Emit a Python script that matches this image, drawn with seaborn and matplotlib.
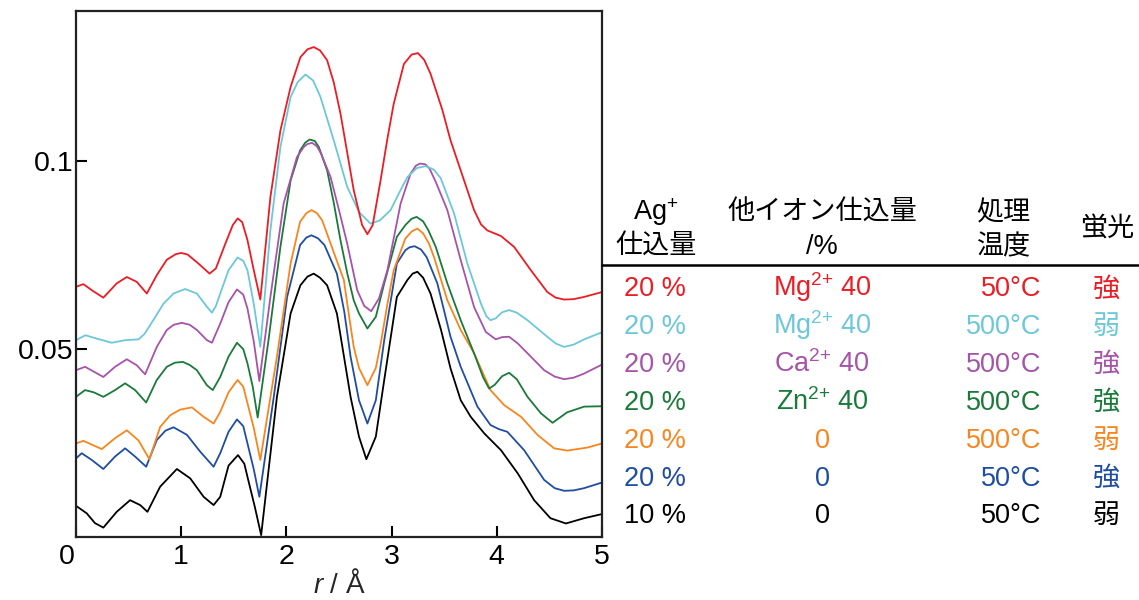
import numpy as np
import pandas as pd
import matplotlib
matplotlib.use("Agg")
import matplotlib.pyplot as plt
import matplotlib.transforms as mtransforms
from matplotlib.lines import Line2D
import seaborn as sns

# ---------------- data ----------------
r_red = [0.00, 0.07, 0.16, 0.26, 0.387, 0.483, 0.578, 0.673, 0.768, 0.863, 0.95, 1.0, 1.06, 1.155, 1.27,
         1.33, 1.42, 1.49, 1.537, 1.58, 1.63, 1.69, 1.752, 1.848, 1.943, 2.04, 2.133, 2.20, 2.26, 2.32,
         2.387, 2.45, 2.514, 2.58, 2.64, 2.72, 2.77, 2.82, 2.895, 2.96, 3.02, 3.117, 3.19, 3.25, 3.31,
         3.37, 3.483, 3.56, 3.689, 3.784, 3.85, 3.91, 4.04, 4.165, 4.324, 4.48, 4.56, 4.64, 4.73, 4.83, 5.0]
v_red = [0.0666, 0.0673, 0.0655, 0.0637, 0.0675, 0.0692, 0.0679, 0.0648, 0.0697, 0.0738, 0.0753, 0.0756,
         0.0752, 0.0730, 0.0701, 0.0715, 0.0781, 0.0830, 0.0848, 0.0838, 0.0790, 0.0710, 0.0632, 0.0905,
         0.1082, 0.1198, 0.1277, 0.1298, 0.1304, 0.1295, 0.1269, 0.1210, 0.1127, 0.1020, 0.0923, 0.0830,
         0.0806, 0.0830, 0.0949, 0.1060, 0.1153, 0.1259, 0.1284, 0.1288, 0.1270, 0.1233, 0.1136, 0.1056,
         0.0949, 0.0870, 0.0832, 0.0816, 0.0801, 0.0772, 0.0710, 0.0652, 0.0637, 0.0632, 0.0633, 0.0639,
         0.0652]

r_cyan = [0.00, 0.09, 0.197, 0.34, 0.47, 0.594, 0.65, 0.705, 0.832, 0.927, 1.038, 1.149, 1.244, 1.292,
          1.33, 1.371, 1.45, 1.536, 1.59, 1.63, 1.69, 1.752, 1.80, 1.848, 1.943, 2.04, 2.108, 2.181, 2.254,
          2.324, 2.45, 2.578, 2.69, 2.80, 2.89, 2.99, 3.07, 3.15, 3.24, 3.324, 3.40, 3.467, 3.594, 3.72,
          3.848, 3.90, 3.94, 3.99, 4.05, 4.117, 4.19, 4.292, 4.48, 4.56, 4.64, 4.73, 4.83, 5.0]
v_cyan = [0.0524, 0.0537, 0.0528, 0.0517, 0.0524, 0.0526, 0.0540, 0.0564, 0.0621, 0.0648, 0.0660, 0.0648,
          0.0613, 0.0597, 0.0615, 0.0648, 0.0710, 0.0744, 0.0735, 0.0710, 0.0620, 0.0506, 0.0660, 0.0817,
          0.1038, 0.1171, 0.1211, 0.1231, 0.1215, 0.1171, 0.1056, 0.0932, 0.0865, 0.0834, 0.0843, 0.0870,
          0.0915, 0.0958, 0.0982, 0.0987, 0.0978, 0.0955, 0.0861, 0.0728, 0.0622, 0.0588, 0.0577, 0.0582,
          0.0598, 0.0604, 0.0597, 0.0577, 0.0533, 0.0515, 0.0506, 0.0512, 0.0526, 0.0545]

r_purple = [0.00, 0.086, 0.17, 0.26, 0.371, 0.483, 0.578, 0.657, 0.768, 0.863, 0.93, 1.006, 1.08, 1.149,
            1.244, 1.292, 1.371, 1.45, 1.53, 1.59, 1.63, 1.69, 1.743, 1.848, 1.974, 2.10, 2.165, 2.20,
            2.244, 2.29, 2.33, 2.42, 2.50, 2.578, 2.673, 2.74, 2.806, 2.88, 2.96, 3.086, 3.18, 3.23, 3.27,
            3.32, 3.36, 3.42, 3.53, 3.657, 3.784, 3.895, 3.99, 4.05, 4.117, 4.20, 4.292, 4.45, 4.55, 4.64,
            4.73, 4.83, 5.0]
v_purple = [0.0444, 0.0453, 0.0440, 0.0426, 0.0453, 0.0473, 0.0457, 0.0433, 0.0506, 0.0551, 0.0565, 0.0570,
            0.0565, 0.0551, 0.0524, 0.0517, 0.0568, 0.0625, 0.0659, 0.0645, 0.0608, 0.0520, 0.0415, 0.0639,
            0.0888, 0.1011, 0.1038, 0.1046, 0.1049, 0.1040, 0.1020, 0.0958, 0.0870, 0.0781, 0.0657, 0.0615,
            0.0601, 0.0635, 0.0710, 0.0888, 0.0967, 0.0988, 0.0994, 0.0992, 0.0981, 0.0945, 0.0870, 0.0737,
            0.0612, 0.0546, 0.0526, 0.0532, 0.0533, 0.0515, 0.0489, 0.0444, 0.0427, 0.0420, 0.0424, 0.0435,
            0.0459]

r_green = [0.00, 0.086, 0.17, 0.26, 0.371, 0.467, 0.562, 0.667, 0.768, 0.863, 0.94, 1.016, 1.08, 1.149,
           1.244, 1.30, 1.371, 1.45, 1.53, 1.59, 1.63, 1.68, 1.727, 1.83, 1.943, 2.04, 2.13, 2.18, 2.222,
           2.27, 2.308, 2.387, 2.45, 2.514, 2.58, 2.64, 2.69, 2.77, 2.85, 2.93, 3.05, 3.13, 3.19, 3.238,
           3.30, 3.35, 3.42, 3.53, 3.657, 3.784, 3.87, 3.927, 3.98, 4.05, 4.117, 4.19, 4.292, 4.42, 4.53,
           4.60, 4.67, 4.83, 5.0]
v_green = [0.0373, 0.0391, 0.0385, 0.0373, 0.0391, 0.0409, 0.0391, 0.0358, 0.0418, 0.0453, 0.0464, 0.0466,
           0.0458, 0.0444, 0.0404, 0.0391, 0.0426, 0.0480, 0.0517, 0.0500, 0.0462, 0.0400, 0.0318, 0.0524,
           0.0772, 0.0949, 0.1029, 0.1050, 0.1058, 0.1054, 0.1038, 0.0976, 0.0890, 0.0790, 0.0700, 0.0630,
           0.0595, 0.0555, 0.0586, 0.0675, 0.0799, 0.0830, 0.0847, 0.0852, 0.0840, 0.0816, 0.0772, 0.0675,
           0.0577, 0.0489, 0.0425, 0.0395, 0.0405, 0.0428, 0.0437, 0.0420, 0.0373, 0.0329, 0.0304, 0.0318,
           0.0332, 0.0347, 0.0348]

r_orange = [0.00, 0.07, 0.245, 0.371, 0.483, 0.594, 0.698, 0.80, 0.895, 0.99, 1.102, 1.213, 1.308, 1.371,
            1.45, 1.536, 1.59, 1.63, 1.69, 1.752, 1.91, 2.04, 2.13, 2.19, 2.238, 2.29, 2.34, 2.42, 2.546,
            2.60, 2.64, 2.69, 2.77, 2.85, 2.90, 2.96, 3.02, 3.13, 3.19, 3.245, 3.30, 3.355, 3.403, 3.53,
            3.657, 3.784, 3.94, 4.07, 4.23, 4.39, 4.545, 4.67, 4.86, 5.0]
v_orange = [0.0249, 0.0256, 0.0234, 0.0263, 0.0284, 0.0257, 0.0207, 0.0293, 0.0324, 0.0339, 0.0345, 0.0320,
            0.0302, 0.0333, 0.0385, 0.0418, 0.0400, 0.0356, 0.0290, 0.0205, 0.0480, 0.0728, 0.0839, 0.0862,
            0.0870, 0.0862, 0.0843, 0.0781, 0.0684, 0.0580, 0.0506, 0.0450, 0.0404, 0.0450, 0.0520, 0.0620,
            0.0710, 0.0794, 0.0813, 0.0821, 0.0808, 0.0781, 0.0745, 0.0630, 0.0551, 0.0489, 0.0391, 0.0351,
            0.0320, 0.0271, 0.0236, 0.0230, 0.0238, 0.0249]

r_blue = [0.00, 0.054, 0.15, 0.26, 0.371, 0.467, 0.562, 0.667, 0.768, 0.85, 0.927, 1.054, 1.181, 1.308,
          1.371, 1.45, 1.53, 1.59, 1.63, 1.69, 1.743, 1.88, 2.007, 2.13, 2.19, 2.238, 2.30, 2.362, 2.48,
          2.55, 2.61, 2.69, 2.77, 2.85, 2.93, 3.05, 3.13, 3.17, 3.219, 3.28, 3.333, 3.435, 3.56, 3.657,
          3.816, 3.94, 4.02, 4.10, 4.26, 4.45, 4.55, 4.64, 4.73, 4.83, 5.0]
v_blue = [0.0209, 0.0223, 0.0205, 0.0181, 0.0214, 0.0236, 0.0214, 0.0187, 0.0258, 0.0283, 0.0292, 0.0272,
          0.0227, 0.0187, 0.0223, 0.0280, 0.0313, 0.0295, 0.0249, 0.0180, 0.0107, 0.0373, 0.0639, 0.0777,
          0.0797, 0.0803, 0.0795, 0.0777, 0.0701, 0.0600, 0.0480, 0.0364, 0.0302, 0.0364, 0.0524, 0.0728,
          0.0763, 0.0771, 0.0774, 0.0765, 0.0745, 0.0675, 0.0533, 0.0453, 0.0347, 0.0298, 0.0287, 0.0280,
          0.0231, 0.0152, 0.0130, 0.0123, 0.0124, 0.0130, 0.0145]

r_black = [0.00, 0.102, 0.18, 0.26, 0.387, 0.514, 0.61, 0.679, 0.80, 0.959, 1.086, 1.213, 1.308, 1.371,
           1.45, 1.54, 1.60, 1.63, 1.70, 1.76, 1.91, 2.04, 2.133, 2.20, 2.26, 2.32, 2.387, 2.48, 2.61,
           2.69, 2.76, 2.85, 2.93, 3.05, 3.15, 3.20, 3.245, 3.30, 3.37, 3.47, 3.56, 3.657, 3.752, 3.88,
           4.04, 4.20, 4.355, 4.51, 4.657, 4.83, 5.0]
v_black = [0.0083, 0.0063, 0.0037, 0.0025, 0.0067, 0.0098, 0.0085, 0.0067, 0.0134, 0.0181, 0.0156, 0.0107,
           0.0085, 0.0107, 0.0190, 0.0218, 0.0195, 0.0160, 0.0080, 0.0005, 0.0373, 0.0595, 0.0670, 0.0693,
           0.0701, 0.0690, 0.0670, 0.0595, 0.0373, 0.0267, 0.0207, 0.0267, 0.0418, 0.0639, 0.0684, 0.0701,
           0.0706, 0.0690, 0.0648, 0.0551, 0.0449, 0.0364, 0.0320, 0.0276, 0.0231, 0.0169, 0.0098, 0.0050,
           0.0036, 0.0050, 0.0061]

sample_names = ["Mg40_50C", "Mg40_500C", "Ca40_500C", "Zn40_500C", "none_500C", "none_50C", "Ag10_50C"]
line_colors = ["#ec1c24", "#6cc8d8", "#a653a9", "#1a7a3a", "#f7861f", "#1f4ea1", "#000000"]

# table columns
col_ag = ["20 %", "20 %", "20 %", "20 %", "20 %", "20 %", "10 %"]
col_other = [r"Mg$^{2{+}}$ 40", r"Mg$^{2{+}}$ 40", r"Ca$^{2{+}}$ 40", r"Zn$^{2{+}}$ 40", "0", "0", "0"]
col_temp = ["50°C", "500°C", "500°C", "500°C", "500°C", "50°C", "50°C"]
col_fluor = ["強", "弱", "強", "強", "弱", "強", "弱"]

x_ticks = [0, 1, 2, 3, 4, 5]
y_ticks = [0.05, 0.1]
y_tick_labels = ["0.05", "0.1"]

# ---------------- style ----------------
sns.set_style("ticks")
plt.rcParams["font.family"] = ["Liberation Sans", "Noto Sans CJK JP", "DejaVu Sans"]
plt.rcParams["mathtext.fontset"] = "custom"
plt.rcParams["mathtext.rm"] = "Liberation Sans"
plt.rcParams["mathtext.it"] = "Liberation Sans:italic"
plt.rcParams["mathtext.bf"] = "Liberation Sans:bold"

W, H = 1139, 600
fig = plt.figure(figsize=(W / 100, H / 100), dpi=100)
ax = fig.add_axes([76 / W, 1 - 537 / H, (602 - 76) / W, (537 - 11) / H])

frames = []
for name, rr, vv in zip(sample_names,
                        [r_red, r_cyan, r_purple, r_green, r_orange, r_blue, r_black],
                        [v_red, v_cyan, v_purple, v_green, v_orange, v_blue, v_black]):
    frames.append(pd.DataFrame({"r": rr, "v": vv, "sample": name}))
df = pd.concat(frames, ignore_index=True)

sns.lineplot(data=df, x="r", y="v", hue="sample", hue_order=sample_names[::-1],
             palette=dict(zip(sample_names, line_colors)), estimator=None, sort=False,
             legend=False, linewidth=1.3, ax=ax)
for ln in ax.lines:
    ln.set_solid_joinstyle("round")

ax.set_xlim(0, 5)
ax.set_ylim(0, 0.14)
ax.set_xticks(x_ticks)
ax.set_xticklabels([str(t) for t in x_ticks])
ax.set_yticks(y_ticks)
ax.set_yticklabels(y_tick_labels)
ax.set_ylabel("")
ax.set_xlabel(r"$\mathit{r}$ / Å", fontsize=20, labelpad=0)
ax.tick_params(axis="both", direction="in", length=8, width=1.5, labelsize=20.5, colors="black")
ax.tick_params(axis="x", pad=5)
ax.tick_params(axis="y", pad=2)
for s in ax.spines.values():
    s.set_linewidth(1.6)
    s.set_color("#222222")
    s.set_visible(True)

# shift the "0" x tick label slightly left as in the reference
lbl0 = ax.get_xticklabels()[0]
lbl0.set_transform(lbl0.get_transform() + mtransforms.ScaledTranslation(-9 / 100, 0, fig.dpi_scale_trans))

# ---------------- table ----------------
def fx(px):
    return px / W

def fy(py):
    return 1 - py / H

fs = 19.5
hdr_kw = dict(fontsize=fs, color="black", va="baseline")
fig.text(fx(656), fy(220), r"Ag$^{+}$", ha="center", **hdr_kw)
fig.text(fx(656), fy(254), "仕込量", ha="center", **hdr_kw)
fig.text(fx(822), fy(220), "他イオン仕込量", ha="center", **hdr_kw)
fig.text(fx(822), fy(254), "/%", ha="center", **hdr_kw)
fig.text(fx(1003), fy(220), "処理", ha="center", **hdr_kw)
fig.text(fx(1003), fy(254), "温度", ha="center", **hdr_kw)
fig.text(fx(1107), fy(237), "蛍光", ha="center", **hdr_kw)

fig.add_artist(Line2D([fx(602), 1.0], [fy(265), fy(265)], transform=fig.transFigure,
                      color="black", linewidth=1.8))

row0, step = 296.5, 37.8
for i in range(len(sample_names)):
    yb = fy(row0 + i * step)
    c = line_colors[i]
    fig.text(fx(655), yb, col_ag[i], ha="center", va="baseline", fontsize=fs, color=c)
    fig.text(fx(822), yb, col_other[i], ha="center", va="baseline", fontsize=fs, color=c)
    fig.text(fx(1041), yb, col_temp[i], ha="right", va="baseline", fontsize=fs, color=c)
    fig.text(fx(1106), yb, col_fluor[i], ha="center", va="baseline", fontsize=fs, color=c)

fig.savefig("out.png", dpi=100)
